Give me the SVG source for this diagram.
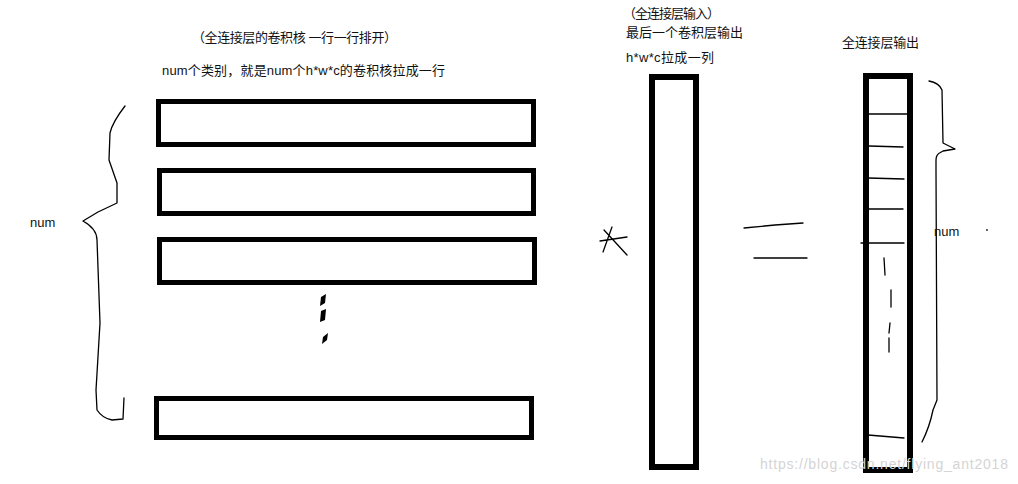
<svg xmlns="http://www.w3.org/2000/svg" width="1018" height="484" viewBox="0 0 1018 484">
<style>
.t{font-family:"Liberation Sans","Noto Sans CJK SC",sans-serif;font-size:13px;fill:#111}
.box{fill:#fff;stroke:#000;stroke-width:5}
.col{fill:#fff;stroke:#000;stroke-width:6}
.ink{fill:none;stroke:#000;stroke-width:1.3;stroke-linecap:round;stroke-linejoin:round}
.wm{font-family:"Liberation Sans",sans-serif;font-size:14px;fill:#d4d4d4}
</style>
<rect width="1018" height="484" fill="#fff"/>

<g id="titles">
<text class="t" x="192" y="42" textLength="205">（全连接层的卷积核 一行一行排开）</text>
<text class="t" x="162" y="75" textLength="283">num个类别，就是num个h*w*c的卷积核拉成一行</text>
<text class="t" x="623" y="18" textLength="97">（全连接层输入）</text>
<text class="t" x="626" y="37" textLength="117">最后一个卷积层输出</text>
<text class="t" x="626" y="62" textLength="88">h*w*c拉成一列</text>
<text class="t" x="842" y="47" textLength="77">全连接层输出</text>
</g>

<g id="kernel-rows">
<rect class="box" x="158.5" y="101.5" width="375" height="43"/>
<rect class="box" x="159.5" y="170.5" width="374" height="43"/>
<rect class="box" x="159.5" y="239.5" width="375" height="43"/>
<rect class="box" x="156.5" y="398.5" width="375" height="39"/>
<g id="row-ellipsis" fill="#000">
<polygon points="321,297 326,294 325,303 320,306"/>
<polygon points="321,311 326,309 325,320 320,322"/>
<polygon points="323,337 328,333 327,340 322,344"/>
</g>
</g>

<g id="input-column">
<rect class="col" x="652" y="77" width="44" height="390"/>
</g>

<g id="output-column">
<rect class="col" x="866" y="76" width="44" height="394"/>
<g class="ink">
<line x1="867" y1="114" x2="908" y2="114"/>
<line x1="869" y1="146" x2="903" y2="147"/>
<line x1="868" y1="178" x2="904" y2="179"/>
<line x1="868" y1="209" x2="903" y2="209"/>
<line x1="861" y1="243" x2="904" y2="243"/>
<line x1="884" y1="258" x2="885" y2="275"/>
<line x1="891" y1="290" x2="891" y2="307"/>
<line x1="890" y1="323" x2="889" y2="333"/>
<line x1="889" y1="338" x2="889" y2="352"/>
<line x1="868" y1="435" x2="904" y2="438"/>
</g>
</g>

<g id="operators" class="ink">
<path d="M604,230 L627,255 M612,227 L603,252 M600,241 L627,237"/>
<path d="M744,228 L775,225 L803,223 M754,258 L807,258"/>
</g>

<g id="annotations">
<path class="ink" d="M125,106 C118,115 112,124 110,133 L109,160 L117,183 L117,203 L98,212 L83,221 C92,226 97,232 97,240 L100,323 L96,390 L97,410 C101,416 106,419 112,420 L123,419 L124,398"/>
<text class="t" x="30" y="227">num</text>
<path class="ink" d="M929,81 C935,82 940,85 942,90 L943,143 L955,149 L943,151 C937,154 936,156 936,160 L936,170 L937,400 L933,410 C930,425 926,434 922,442"/>
<text class="t" x="934" y="236">num</text>
<circle cx="987" cy="230" r="1" fill="#333"/>
</g>

<text class="wm" x="760" y="469" textLength="248">https://blog.csdn.net/flying_ant2018</text>
</svg>
